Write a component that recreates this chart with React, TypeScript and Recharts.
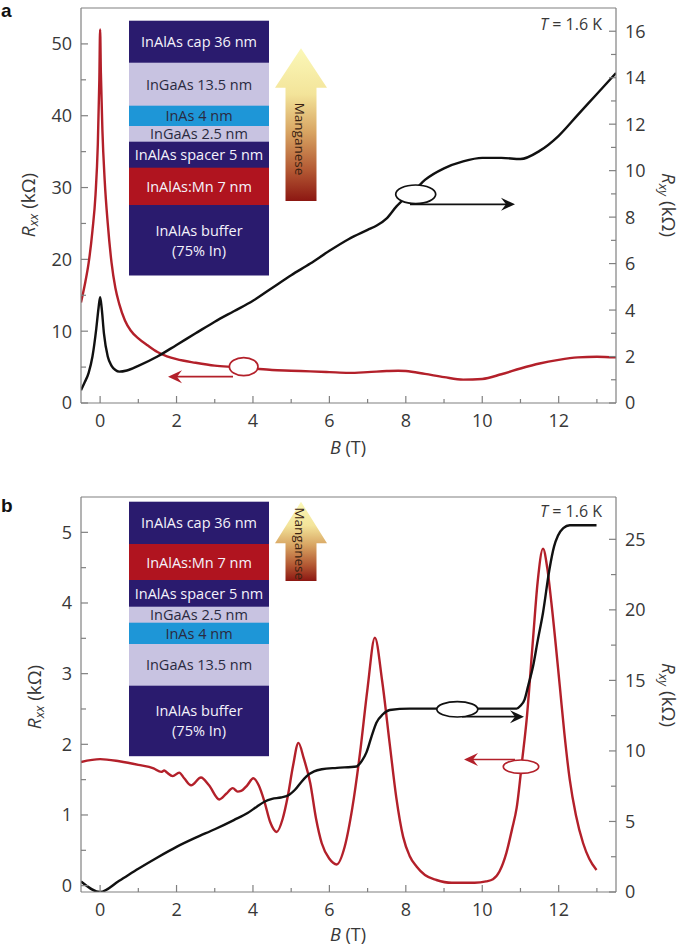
import React from 'react';
import { LineChart, Line, XAxis, YAxis, ReferenceLine } from 'recharts';

const FONT = '"Open Sans", "DejaVu Sans", sans-serif';
const AXIS = '#808080';
const RED = '#b3202a';
const BLACK = '#111111';
const TXT = '#383838';

// ---------- Panel a data ----------
const aRxxB = [-0.5, -0.4, -0.3, -0.2, -0.12, -0.06, -0.02, 0, 0.02, 0.06, 0.12, 0.2, 0.3, 0.4, 0.5, 0.65, 0.8, 1, 1.25, 1.5, 1.75, 2, 2.5, 3, 3.5, 4, 4.5, 5, 5.5, 6, 6.5, 7, 7.5, 7.8, 8, 8.5, 9, 9.5, 10, 10.5, 11, 11.5, 12, 12.5, 13, 13.5];
const aRxxV = [14, 16.5, 19.5, 24, 29, 36, 45, 52, 46, 38, 31, 25, 19.5, 16, 13.8, 11.5, 10.1, 9, 8, 7.1, 6.5, 6.1, 5.6, 5.2, 5, 4.8, 4.6, 4.5, 4.4, 4.3, 4.2, 4.3, 4.45, 4.5, 4.45, 4.05, 3.6, 3.25, 3.35, 4.0, 4.8, 5.5, 6.0, 6.35, 6.45, 6.35];
const aRxyB = [-0.5, -0.4, -0.3, -0.2, -0.1, -0.04, 0, 0.04, 0.1, 0.2, 0.3, 0.4, 0.5, 0.7, 1, 1.5, 2, 2.5, 3, 3.5, 4, 4.5, 5, 5.5, 6, 6.5, 7, 7.25, 7.5, 7.75, 8, 8.25, 8.5, 9, 9.5, 10, 10.5, 11, 11.5, 12, 12.5, 13, 13.5];
const aRxyV = [0.55, 0.9, 1.3, 2.0, 3.2, 4.1, 4.55, 4.1, 3.0, 2.0, 1.6, 1.42, 1.35, 1.4, 1.6, 2.0, 2.5, 3.0, 3.5, 3.95, 4.4, 4.95, 5.5, 6.0, 6.55, 7.05, 7.45, 7.65, 7.95, 8.45, 8.85, 9.2, 9.6, 10.1, 10.4, 10.55, 10.55, 10.5, 10.85, 11.5, 12.4, 13.3, 14.2];

// ---------- Panel b data ----------
const bRxxB = [-0.5, 0, 0.5, 1, 1.4, 1.6, 1.68, 1.75, 1.9, 2.07, 2.2, 2.38, 2.64, 2.85, 3.12, 3.3, 3.47, 3.6, 3.69, 3.85, 4.01, 4.15, 4.3, 4.45, 4.62, 4.78, 4.91, 5.05, 5.19, 5.33, 5.5, 5.65, 5.8, 6, 6.19, 6.4, 6.6, 6.8, 7, 7.19, 7.38, 7.58, 7.75, 7.93, 8.1, 8.28, 8.5, 8.8, 9.2, 9.8, 10.1, 10.28, 10.45, 10.63, 10.78, 10.9, 11.05, 11.16, 11.33, 11.45, 11.59, 11.7, 11.81, 12.03, 12.15, 12.29, 12.45, 12.64, 12.8, 12.99];
const bRxxV = [1.75, 1.79, 1.76, 1.71, 1.66, 1.61, 1.63, 1.6, 1.55, 1.6, 1.52, 1.42, 1.53, 1.42, 1.22, 1.3, 1.38, 1.33, 1.34, 1.42, 1.52, 1.42, 1.19, 0.9, 0.76, 0.95, 1.26, 1.7, 2.02, 1.8, 1.45, 0.95, 0.6, 0.38, 0.3, 0.55, 1.1, 1.87, 2.8, 3.51, 2.9, 2.0, 1.25, 0.69, 0.42, 0.27, 0.15, 0.08, 0.04, 0.04, 0.06, 0.09, 0.2, 0.46, 0.8, 1.1, 1.8, 2.34, 3.5, 4.3, 4.77, 4.5, 4.0, 2.82, 2.15, 1.5, 1.0, 0.6, 0.38, 0.22];
const bRxyB = [-0.5, 0, 0.5, 1, 1.5, 2, 2.5, 3, 3.5, 3.86, 4.1, 4.3, 4.5, 4.73, 4.95, 5.1, 5.25, 5.4, 5.6, 5.8, 6.2, 6.71, 6.85, 6.97, 7.1, 7.23, 7.4, 7.58, 8.1, 10.9, 11, 11.11, 11.2, 11.33, 11.45, 11.59, 11.76, 11.88, 11.98, 12.12, 12.29, 12.99];
const bRxyV = [0.75, 0, 0.8, 1.65, 2.45, 3.2, 3.85, 4.45, 5.1, 5.6, 6.05, 6.4, 6.6, 6.7, 6.9, 7.25, 7.75, 8.2, 8.55, 8.7, 8.8, 8.9, 9.3, 9.9, 11.0, 12.0, 12.6, 12.9, 13.0, 13.0, 13.2, 13.66, 14.6, 16.0, 17.8, 19.8, 22.9, 24.5, 25.25, 25.8, 26.0, 26.0];

// ---------- Axes / ticks ----------
const xDomain = [-0.5, 13.5];
const xTicks = [0, 1, 2, 3, 4, 5, 6, 7, 8, 9, 10, 11, 12, 13];
const aLeftDomain = [0, 55];
const aLeftTicks = [0, 5, 10, 15, 20, 25, 30, 35, 40, 45, 50];
const aRightDomain = [0, 17];
const aRightTicks = [0, 1, 2, 3, 4, 5, 6, 7, 8, 9, 10, 11, 12, 13, 14, 15, 16];
const bLeftDomain = [-0.09, 5.5];
const bLeftTicks = [0, 0.5, 1, 1.5, 2, 2.5, 3, 3.5, 4, 4.5, 5];
const bRightDomain = [0, 28];
const bRightTicks = [0, 2.5, 5, 7.5, 10, 12.5, 15, 17.5, 20, 22.5, 25];

// ---------- Layer stacks ----------
const NAVY = '#2a1b6e';
const LAV = '#c8c3e1';
const BLUE = '#1e96d7';
const MNRED = '#b0141f';
const stackA = [
  { label: ['InAlAs cap 36 nm'], fill: NAVY, light: true },
  { label: ['InGaAs 13.5 nm'], fill: LAV, light: false },
  { label: ['InAs 4 nm'], fill: BLUE, light: false },
  { label: ['InGaAs 2.5 nm'], fill: LAV, light: false },
  { label: ['InAlAs spacer 5 nm'], fill: NAVY, light: true },
  { label: ['InAlAs:Mn 7 nm'], fill: MNRED, light: true },
  { label: ['InAlAs buffer', '(75% In)'], fill: NAVY, light: true },
];
const stackAEdges = [20.7, 62.7, 105.7, 126, 141.7, 167.7, 205, 275];
const stackB = [
  { label: ['InAlAs cap 36 nm'], fill: NAVY, light: true },
  { label: ['InAlAs:Mn 7 nm'], fill: MNRED, light: true },
  { label: ['InAlAs spacer 5 nm'], fill: NAVY, light: true },
  { label: ['InGaAs 2.5 nm'], fill: LAV, light: false },
  { label: ['InAs 4 nm'], fill: BLUE, light: false },
  { label: ['InGaAs 13.5 nm'], fill: LAV, light: false },
  { label: ['InAlAs buffer', '(75% In)'], fill: NAVY, light: true },
];
const stackBEdges = [501.7, 544, 580, 606.7, 622.7, 644, 685.7, 755.7];

const toPts = (bs: number[], vs: number[]) => bs.map((b, i) => ({ B: b, v: vs[i] }));

const isMajor = (v: number, step: number) => Math.abs(v / step - Math.round(v / step)) < 1e-6;

const makeXTick = (step: number) => (props: any) => {
  const { x, y, payload } = props;
  const v = payload.value;
  const major = isMajor(v, step);
  return (
    <g>
      <line x1={x} x2={x} y1={y} y2={y - (major ? 7 : 4)} stroke={AXIS} strokeWidth={1.2} />
      {major && (
        <text x={x} y={y + 24} textAnchor="middle" fontSize={18} fontFamily={FONT} fill={TXT}>
          {v}
        </text>
      )}
    </g>
  );
};

const makeYTick = (step: number, side: 'left' | 'right') => (props: any) => {
  const { x, y, payload } = props;
  const v = payload.value;
  const major = isMajor(v, step);
  const dir = side === 'left' ? 1 : -1;
  return (
    <g>
      <line x1={x} x2={x + dir * (major ? 7 : 5)} y1={y} y2={y} stroke={AXIS} strokeWidth={1.2} />
      {major && (
        <text
          x={side === 'left' ? x - 9 : x + 9}
          y={y}
          dy="0.36em"
          textAnchor={side === 'left' ? 'end' : 'start'}
          fontSize={18}
          fontFamily={FONT}
          fill={TXT}
        >
          {v}
        </text>
      )}
    </g>
  );
};

type PanelProps = {
  top: number;
  height: number;
  margin: { top: number; right: number; bottom: number; left: number };
  rxx: { B: number; v: number }[];
  rxy: { B: number; v: number }[];
  leftDomain: number[];
  leftTicks: number[];
  leftStep: number;
  rightDomain: number[];
  rightTicks: number[];
  rightStep: number;
};

const Panel = (p: PanelProps) => (
  <div style={{ position: 'absolute', left: 0, top: p.top }}>
    <LineChart width={685} height={p.height} margin={p.margin}>
      <XAxis
        type="number"
        dataKey="B"
        domain={xDomain}
        ticks={xTicks}
        interval={0}
        allowDataOverflow
        height={30}
        tickSize={0}
        tickMargin={0}
        tickLine={false}
        axisLine={{ stroke: AXIS, strokeWidth: 1.2 }}
        tick={makeXTick(2)}
      />
      <YAxis
        yAxisId="left"
        orientation="left"
        type="number"
        domain={p.leftDomain}
        ticks={p.leftTicks}
        interval={0}
        allowDataOverflow
        width={50}
        tickSize={0}
        tickMargin={0}
        tickLine={false}
        axisLine={{ stroke: AXIS, strokeWidth: 1.2 }}
        tick={makeYTick(p.leftStep, 'left')}
      />
      <YAxis
        yAxisId="right"
        orientation="right"
        type="number"
        domain={p.rightDomain}
        ticks={p.rightTicks}
        interval={0}
        allowDataOverflow
        width={50}
        tickSize={0}
        tickMargin={0}
        tickLine={false}
        axisLine={{ stroke: AXIS, strokeWidth: 1.2 }}
        tick={makeYTick(p.rightStep, 'right')}
      />
      <ReferenceLine yAxisId="right" y={p.rightDomain[1]} stroke={AXIS} strokeWidth={1.2} />
      <Line
        yAxisId="left"
        data={p.rxx}
        dataKey="v"
        type="monotone"
        stroke={RED}
        strokeWidth={2.4}
        dot={false}
        isAnimationActive={false}
      />
      <Line
        yAxisId="right"
        data={p.rxy}
        dataKey="v"
        type="monotone"
        stroke={BLACK}
        strokeWidth={2.4}
        dot={false}
        isAnimationActive={false}
      />
    </LineChart>
  </div>
);

const Stack = ({ layers, edges }: { layers: typeof stackA; edges: number[] }) => (
  <g>
    {layers.map((l, i) => {
      const y0 = edges[i];
      const y1 = edges[i + 1];
      const cy = (y0 + y1) / 2;
      const n = l.label.length;
      return (
        <g key={i}>
          <rect x={129} y={y0} width={140} height={y1 - y0 + 0.5} fill={l.fill} />
          {l.label.map((t, j) => (
            <text
              key={j}
              x={199}
              y={n === 1 ? cy : cy - 10 + j * 20}
              dominantBaseline="central"
              textAnchor="middle"
              fontSize={14.5}
              fontFamily={FONT}
              fill={l.light ? '#f4f2fb' : '#2a2a40'}
            >
              {t}
            </text>
          ))}
        </g>
      );
    })}
  </g>
);

const MnArrow = ({ tipY, baseY, bottom, id, textY }: { tipY: number; baseY: number; bottom: number; id: string; textY: number }) => {
  const cx = 301;
  const pts = [
    [cx, tipY],
    [cx + 26, baseY],
    [cx + 15.5, baseY],
    [cx + 15.5, bottom],
    [cx - 15.5, bottom],
    [cx - 15.5, baseY],
    [cx - 26, baseY],
  ]
    .map((q) => q.join(','))
    .join(' ');
  return (
    <g>
      <defs>
        <linearGradient id={id} x1="0" y1="0" x2="0" y2="1">
          <stop offset="0" stopColor="#fbf8b8" />
          <stop offset="0.3" stopColor="#f3e49a" />
          <stop offset="0.55" stopColor="#d8a462" />
          <stop offset="0.8" stopColor="#b35833" />
          <stop offset="1" stopColor="#8c1712" />
        </linearGradient>
      </defs>
      <polygon points={pts} fill={`url(#${id})`} />
      <text
        transform={`translate(${cx - 1},${textY}) rotate(90)`}
        textAnchor="middle"
        dominantBaseline="central"
        fontSize={13.5}
        fontFamily={FONT}
        fill="#3a2212"
      >
        Manganese
      </text>
    </g>
  );
};

const HArrow = ({ x1, x2, y, color }: { x1: number; x2: number; y: number; color: string }) => {
  const dir = x2 > x1 ? 1 : -1;
  const L = 14;
  const W = 6.5;
  const notch = 9;
  return (
    <g>
      <line x1={x1} y1={y} x2={x2 - dir * notch} y2={y} stroke={color} strokeWidth={1.7} />
      <path
        d={`M${x2},${y} L${x2 - dir * L},${y - W} L${x2 - dir * notch},${y} L${x2 - dir * L},${y + W} Z`}
        fill={color}
      />
    </g>
  );
};

const Marker = ({ cx, cy, rx, ry, color, ax1, ax2, ay }: any) => (
  <g>
    <HArrow x1={ax1} x2={ax2} y={ay} color={color} />
    <ellipse cx={cx} cy={cy} rx={rx} ry={ry} fill="#ffffff" stroke={color} strokeWidth={1.7} />
  </g>
);

const YLabel = ({ x, y, sub, rot }: { x: number; y: number; sub: string; rot: number }) => (
  <text
    transform={`translate(${x},${y}) rotate(${rot})`}
    textAnchor="middle"
    dominantBaseline="central"
    fontSize={19}
    fontFamily={FONT}
    fill={TXT}
  >
    <tspan fontStyle="italic">R</tspan>
    <tspan fontStyle="italic" fontSize={13} dy={5}>
      {sub}
    </tspan>
    <tspan dy={-5}> (kΩ)</tspan>
  </text>
);

const XLabel = ({ y }: { y: number }) => (
  <text x={348} y={y} textAnchor="middle" fontSize={18} fontFamily={FONT} fill={TXT}>
    <tspan fontStyle="italic">B</tspan> (T)
  </text>
);

const TLabel = ({ y }: { y: number }) => (
  <text x={602} y={y} textAnchor="end" fontSize={16} fontFamily={FONT} fill={TXT}>
    <tspan fontStyle="italic">T</tspan> = 1.6 K
  </text>
);

export default function App() {
  return (
    <div style={{ position: 'absolute', left: 0, top: 0, width: 685, height: 948, background: '#fff' }}>
      <Panel
        top={0}
        height={470}
        margin={{ top: 8, right: 19, bottom: 37, left: 31 }}
        rxx={toPts(aRxxB, aRxxV)}
        rxy={toPts(aRxyB, aRxyV)}
        leftDomain={aLeftDomain}
        leftTicks={aLeftTicks}
        leftStep={10}
        rightDomain={aRightDomain}
        rightTicks={aRightTicks}
        rightStep={2}
      />
      <Panel
        top={470}
        height={478}
        margin={{ top: 27, right: 19, bottom: 26, left: 31 }}
        rxx={toPts(bRxxB, bRxxV)}
        rxy={toPts(bRxyB, bRxyV)}
        leftDomain={bLeftDomain}
        leftTicks={bLeftTicks}
        leftStep={1}
        rightDomain={bRightDomain}
        rightTicks={bRightTicks}
        rightStep={5}
      />
      <svg
        width={685}
        height={948}
        style={{ position: 'absolute', left: 0, top: 0, pointerEvents: 'none' }}
      >
        <text x={1} y={17} fontSize={19} fontWeight="bold" fontFamily='"Liberation Sans", Arial, sans-serif' fill="#111">
          a
        </text>
        <text x={1} y={512} fontSize={19} fontWeight="bold" fontFamily='"Liberation Sans", Arial, sans-serif' fill="#111">
          b
        </text>

        <Stack layers={stackA} edges={stackAEdges} />
        <MnArrow id="mnA" tipY={48.3} baseY={87.7} bottom={201} textY={139} />
        <Stack layers={stackB} edges={stackBEdges} />
        <MnArrow id="mnB" tipY={501.7} baseY={543.3} bottom={581} textY={543.7} />

        <Marker cx={243.7} cy={366.7} rx={14.3} ry={9} color={RED} ax1={233} ax2={168} ay={376.7} />
        <Marker cx={415.7} cy={194.3} rx={20} ry={9.3} color={BLACK} ax1={410} ax2={515} ay={204.3} />
        <Marker cx={457.3} cy={709.3} rx={20.5} ry={7.7} color={BLACK} ax1={462} ax2={524} ay={716.7} />
        <Marker cx={521} cy={766.7} rx={17.7} ry={6.7} color={RED} ax1={515} ax2={464} ay={759.5} />

        <TLabel y={30} />
        <TLabel y={517} />

        <YLabel x={28} y={205} sub="xx" rot={-90} />
        <YLabel x={669} y={205} sub="xy" rot={90} />
        <YLabel x={34} y={697} sub="xx" rot={-90} />
        <YLabel x={669} y={695} sub="xy" rot={90} />

        <XLabel y={454} />
        <XLabel y={941} />
      </svg>
    </div>
  );
}
